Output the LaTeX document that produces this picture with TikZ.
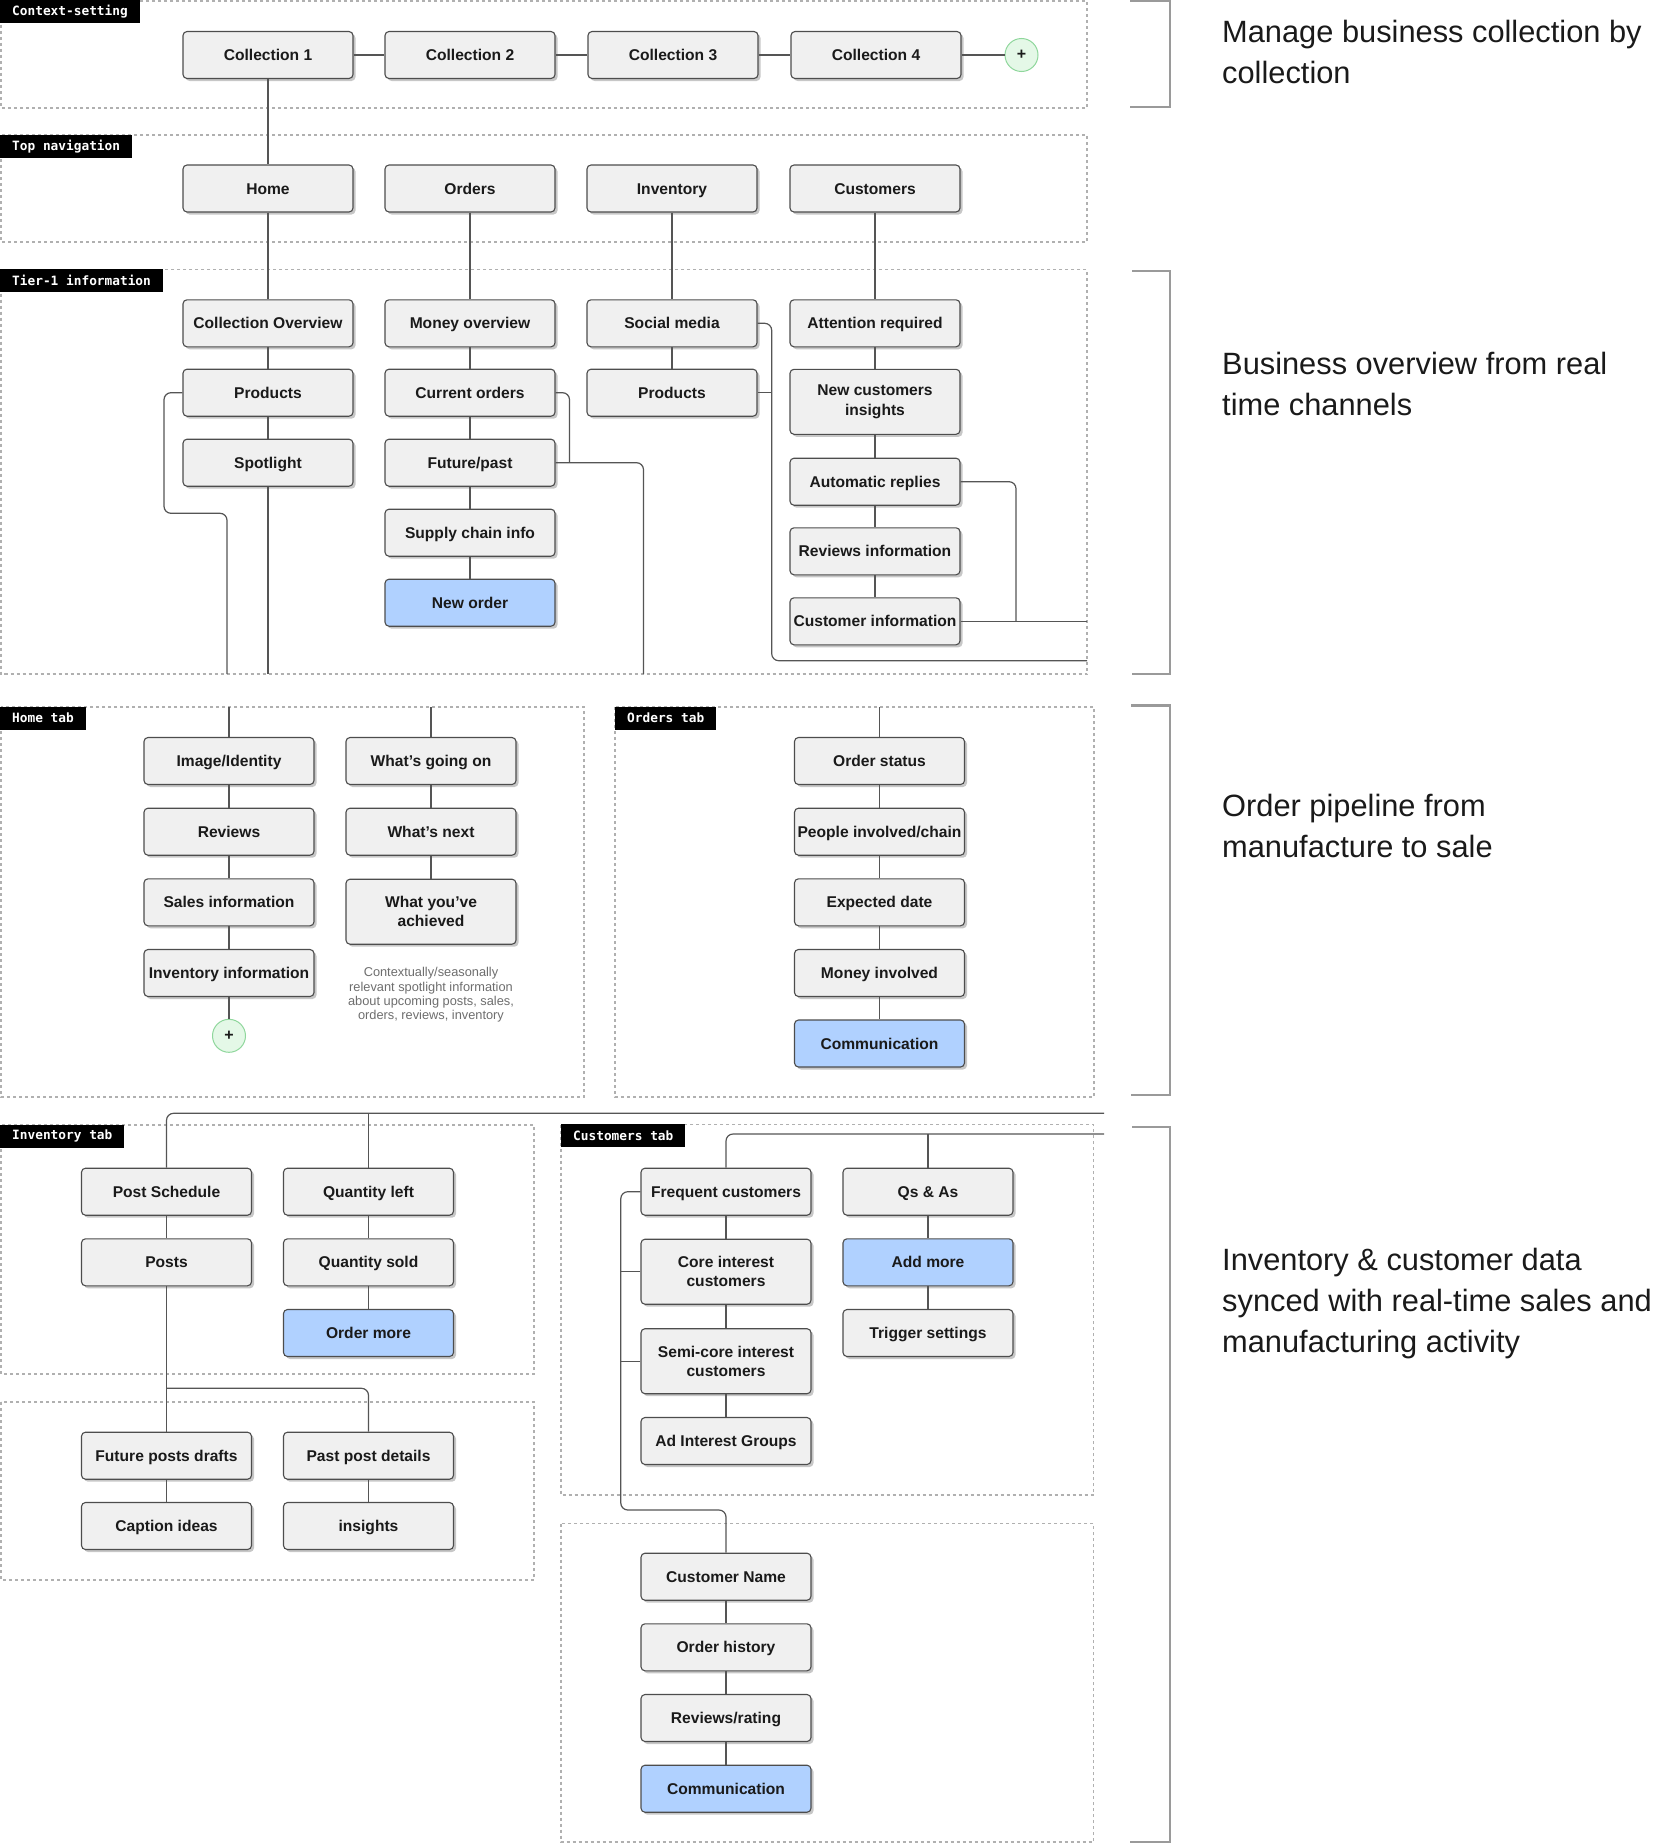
\documentclass[tikz,border=0pt]{standalone}
\usepackage{fontspec}
\setmainfont{Liberation Sans}
\newfontfamily\boxfont{Liberation Sans}
\newfontfamily\lblfont{DejaVu Sans Mono}
\usetikzlibrary{shadows}
\definecolor{boxfill}{HTML}{F0F0F0}
\definecolor{boxline}{HTML}{4D4D4D}
\definecolor{hlfill}{HTML}{B0D1FF}
\definecolor{connc}{HTML}{555555}
\definecolor{framec}{HTML}{B0B0B0}
\definecolor{brkc}{HTML}{9A9A9A}
\definecolor{txt}{HTML}{1A1A1A}
\definecolor{notec}{HTML}{6E6E6E}
\definecolor{plusfill}{HTML}{E4F8E7}
\definecolor{plusline}{HTML}{8FD79C}
\tikzset{
 bx/.style={draw=boxline, fill=boxfill, line width=1.1pt, rounded corners=4pt,
   minimum width=170pt, minimum height=47pt, inner xsep=2pt, inner ysep=0pt,
   align=center, text=txt, font=\boxfont\bfseries\fontsize{15.6}{19.2}\selectfont,
   text height=12pt, text depth=0.8pt,
   drop shadow={shadow xshift=2.5pt, shadow yshift=-2.5pt, fill=black, opacity=0.22}},
 tall/.style={minimum height=65pt, text height=, text depth=},
 hl/.style={fill=hlfill},
 conn/.style={draw=connc, line width=1.2pt},
 rc/.style={rounded corners=7pt},
 frame/.style={draw=framec, line width=1.3pt, dash pattern=on 3pt off 3pt},
 lbl/.style={fill=black, text=white, anchor=north west, inner xsep=12pt, inner ysep=0pt,
   minimum height=23pt, font=\lblfont\bfseries\fontsize{12.8}{14}\selectfont},
 plusc/.style={circle, minimum size=33pt, inner sep=0pt, fill=plusfill, draw=plusline,
   line width=1pt, text=txt, font=\boxfont\bfseries\fontsize{16}{16}\selectfont},
 brk/.style={draw=brkc, line width=2.5pt},
 rtxt/.style={anchor=base west, inner sep=0pt, font=\fontsize{30.8}{36}\selectfont, text=txt},
 note/.style={anchor=north, inner sep=0pt, align=center, text=notec,
   font=\boxfont\fontsize{12.8}{14.3}\selectfont}
}
\begin{document}
\begin{tikzpicture}[x=1pt,y=-1pt]
\useasboundingbox (0,0) rectangle (1670,1844);
\fill[white] (0,0) rectangle (1670,1844);

% ---------- frames ----------
\draw[frame] (1,1) rectangle (1087,108);
\draw[frame] (1,135) rectangle (1087,242);
\draw[frame] (1,269.5) rectangle (1087,674);
\draw[frame] (1,707) rectangle (584,1097);
\draw[frame] (615,707) rectangle (1094,1097);
\draw[frame] (1,1125) rectangle (534,1374);
\draw[frame] (1,1402) rectangle (534,1580);
\draw[frame] (561,1124.5) rectangle (1093.5,1495);
\draw[frame] (561,1523.5) rectangle (1093.5,1842);

% ---------- frame labels ----------
\node[lbl] (lctx) at (0,0) {Context-setting};
\node[lbl] (lnav) at (0,134.5) {Top navigation};
\node[lbl] (ltier) at (0,269) {Tier-1 information};
\node[lbl] (lhome) at (0,706.5) {Home tab};
\node[lbl] (lord) at (615,706.5) {Orders tab};
\node[lbl] (linv) at (0,1124.5) {Inventory tab};
\node[lbl] (lcus) at (561,1124) {Customers tab};

% ---------- brackets ----------
\draw[brk] (1130,1) -- (1170,1) -- (1170,107) -- (1130,107);
\draw[brk] (1132,271) -- (1170,271) -- (1170,674) -- (1132,674);
\draw[brk] (1131,705.5) -- (1170,705.5) -- (1170,1095) -- (1131,1095);
\draw[brk] (1132,1127) -- (1170,1127) -- (1170,1842) -- (1130,1842);

% ---------- right texts ----------
\node[rtxt] (t1a) at (1222,43) {Manage business collection by};
\node[rtxt] (t1b) at (1222,84) {collection};
\node[rtxt] (t2a) at (1222,374.5) {Business overview from real};
\node[rtxt] (t2b) at (1222,415.5) {time channels};
\node[rtxt] (t3a) at (1222,816.5) {Order pipeline from};
\node[rtxt] (t3b) at (1222,857.5) {manufacture to sale};
\node[rtxt] (t4a) at (1222,1270.5) {Inventory \& customer data};
\node[rtxt] (t4b) at (1222,1311.5) {synced with real-time sales and};
\node[rtxt] (t4c) at (1222,1352.5) {manufacturing activity};

% ---------- context row ----------
\node[bx] (c1) at (268,55) {Collection 1};
\node[bx] (c2) at (470,55) {Collection 2};
\node[bx] (c3) at (673,55) {Collection 3};
\node[bx] (c4) at (876,55) {Collection 4};
\node[plusc] (plus1) at (1021.5,55) {+};

% ---------- top navigation ----------
\node[bx] (home) at (268,188.5) {Home};
\node[bx] (orders) at (470,188.5) {Orders};
\node[bx] (inventory) at (672,188.5) {Inventory};
\node[bx] (customers) at (875,188.5) {Customers};

% ---------- tier-1 ----------
\node[bx] (collov) at (268,323.3) {Collection Overview};
\node[bx] (prodA) at (268,392.7) {Products};
\node[bx] (spot) at (268,462.7) {Spotlight};
\node[bx] (money) at (470,323.3) {Money overview};
\node[bx] (curord) at (470,392.7) {Current orders};
\node[bx] (futpast) at (470,462.7) {Future/past};
\node[bx] (supply) at (470,532.7) {Supply chain info};
\node[bx,hl] (neword) at (470,602.7) {New order};
\node[bx] (social) at (672,323.3) {Social media};
\node[bx] (prodC) at (672,392.7) {Products};
\node[bx] (attn) at (875,323.3) {Attention required};
\node[bx,tall] (newcust) at (875,401.8) {New customers\\insights};
\node[bx] (autorep) at (875,481.7) {Automatic replies};
\node[bx] (revinfo) at (875,551.3) {Reviews information};
\node[bx] (custinfo) at (875,621.3) {Customer information};

% ---------- home tab ----------
\node[bx] (imgid) at (229,761) {Image/Identity};
\node[bx] (reviews) at (229,831.7) {Reviews};
\node[bx] (sales) at (229,902.3) {Sales information};
\node[bx] (invinfo) at (229,973) {Inventory information};
\node[plusc] (plus2) at (229,1035.8) {+};
\node[bx] (going) at (431,761) {What’s going on};
\node[bx] (next) at (431,831.7) {What’s next};
\node[bx,tall] (achieved) at (431,911.7) {What you’ve\\achieved};
\node[note] (spotnote) at (431,967.5) {Contextually/seasonally\\relevant spotlight information\\about upcoming posts, sales,\\orders, reviews, inventory};
\coordinate (hs1) at (229,707);
\coordinate (hs2) at (431,707);

% ---------- orders tab ----------
\node[bx] (ostatus) at (879.5,761) {Order status};
\node[bx] (people) at (879.5,831.7) {People involved/chain};
\node[bx] (expdate) at (879.5,902.3) {Expected date};
\node[bx] (moneyinv) at (879.5,973) {Money involved};
\node[bx,hl] (comm1) at (879.5,1043.5) {Communication};
\coordinate (os1) at (879.5,707);

% ---------- inventory tab ----------
\node[bx] (postsch) at (166.5,1191.7) {Post Schedule};
\node[bx] (posts) at (166.5,1262.3) {Posts};
\node[bx] (qleft) at (368.5,1191.7) {Quantity left};
\node[bx] (qsold) at (368.5,1262.3) {Quantity sold};
\node[bx,hl] (ordmore) at (368.5,1333) {Order more};
\node[bx] (futdraft) at (166.5,1455.7) {Future posts drafts};
\node[bx] (caption) at (166.5,1526) {Caption ideas};
\node[bx] (pastpost) at (368.5,1455.7) {Past post details};
\node[bx] (insights) at (368.5,1526) {insights};

% ---------- customers tab ----------
\node[bx] (freq) at (726,1191.7) {Frequent customers};
\node[bx,tall] (core) at (726,1271.7) {Core interest\\customers};
\node[bx,tall] (semi) at (726,1361.2) {Semi-core interest\\customers};
\node[bx] (adint) at (726,1441) {Ad Interest Groups};
\node[bx] (qsas) at (928,1191.7) {Qs \& As};
\node[bx,hl] (addmore) at (928,1262.3) {Add more};
\node[bx] (trigger) at (928,1333) {Trigger settings};
\node[bx] (cname) at (726,1576.7) {Customer Name};
\node[bx] (ohist) at (726,1647.3) {Order history};
\node[bx] (revrate) at (726,1718) {Reviews/rating};
\node[bx,hl] (comm2) at (726,1788.7) {Communication};

% ---------- connectors: context / nav ----------
\draw[conn] (c1) -- (c2);
\draw[conn] (c2) -- (c3);
\draw[conn] (c3) -- (c4);
\draw[conn] (c4) -- (plus1);
\draw[conn] (c1) -- (home);
\draw[conn] (home) -- (collov);
\draw[conn] (orders) -- (money);
\draw[conn] (inventory) -- (social);
\draw[conn] (customers) -- (attn);

% ---------- connectors: tier-1 ----------
\coordinate (tA) at (268,674);
\coordinate (tA2) at (227,674);
\coordinate (tB) at (643.5,674);
\coordinate (tR1) at (1087,621.3);
\coordinate (tR2) at (1087,660.7);
\draw[conn] (collov) -- (prodA);
\draw[conn] (prodA) -- (spot);
\draw[conn] (spot) -- (tA);
\draw[conn,rc] (prodA.west) -- (164,392.7) -- (164,513.3) -- (227,513.3) -- (tA2);
\draw[conn] (money) -- (curord);
\draw[conn] (curord) -- (futpast);
\draw[conn] (futpast) -- (supply);
\draw[conn] (supply) -- (neword);
\draw[conn,rc] (curord.east) -- (569.5,392.7) -- (569.5,462.7);
\draw[conn,rc] (futpast.east) -- (643.5,462.7) -- (tB);
\draw[conn] (social) -- (prodC);
\draw[conn,rc] (social.east) -- (771.7,323.3) -- (771.7,660.7) -- (tR2);
\draw[conn] (prodC.east) -- (771.7,392.7);
\draw[conn] (attn) -- (newcust);
\draw[conn] (newcust) -- (autorep);
\draw[conn] (autorep) -- (revinfo);
\draw[conn] (revinfo) -- (custinfo);
\draw[conn,rc] (autorep.east) -- (1016,481.7) -- (1016,621.3);
\draw[conn] (custinfo.east) -- (tR1);

% ---------- connectors: home tab ----------
\draw[conn] (hs1) -- (imgid);
\draw[conn] (imgid) -- (reviews);
\draw[conn] (reviews) -- (sales);
\draw[conn] (sales) -- (invinfo);
\draw[conn] (invinfo) -- (plus2);
\draw[conn] (hs2) -- (going);
\draw[conn] (going) -- (next);
\draw[conn] (next) -- (achieved);

% ---------- connectors: orders tab ----------
\draw[conn] (os1) -- (ostatus);
\draw[conn] (ostatus) -- (people);
\draw[conn] (people) -- (expdate);
\draw[conn] (expdate) -- (moneyinv);
\draw[conn] (moneyinv) -- (comm1);

% ---------- connectors: inventory tab ----------
\coordinate (iR) at (1104,1113.3);
\draw[conn,rc] (postsch.north) -- (166.5,1113.3) -- (iR);
\draw[conn] (368.5,1113.3) -- (qleft.north);
\draw[conn] (postsch) -- (posts);
\draw[conn] (qleft) -- (qsold);
\draw[conn] (qsold) -- (ordmore);
\draw[conn] (posts) -- (futdraft);
\draw[conn,rc] (166.5,1388.3) -- (368.5,1388.3) -- (pastpost.north);
\draw[conn] (futdraft) -- (caption);
\draw[conn] (pastpost) -- (insights);

% ---------- connectors: customers tab ----------
\coordinate (cR) at (1104,1134);
\draw[conn,rc] (freq.north) -- (726,1134) -- (cR);
\draw[conn] (928,1134) -- (qsas.north);
\draw[conn] (freq) -- (core);
\draw[conn] (core) -- (semi);
\draw[conn] (semi) -- (adint);
\draw[conn] (qsas) -- (addmore);
\draw[conn] (addmore) -- (trigger);
\draw[conn,rc] (freq.west) -- (620.8,1191.7) -- (620.8,1510) -- (726,1510) -- (cname.north);
\draw[conn] (core.west) -- (620.8,1271.7);
\draw[conn] (semi.west) -- (620.8,1361.2);
\draw[conn] (cname) -- (ohist);
\draw[conn] (ohist) -- (revrate);
\draw[conn] (revrate) -- (comm2);
\end{tikzpicture}
\end{document}
